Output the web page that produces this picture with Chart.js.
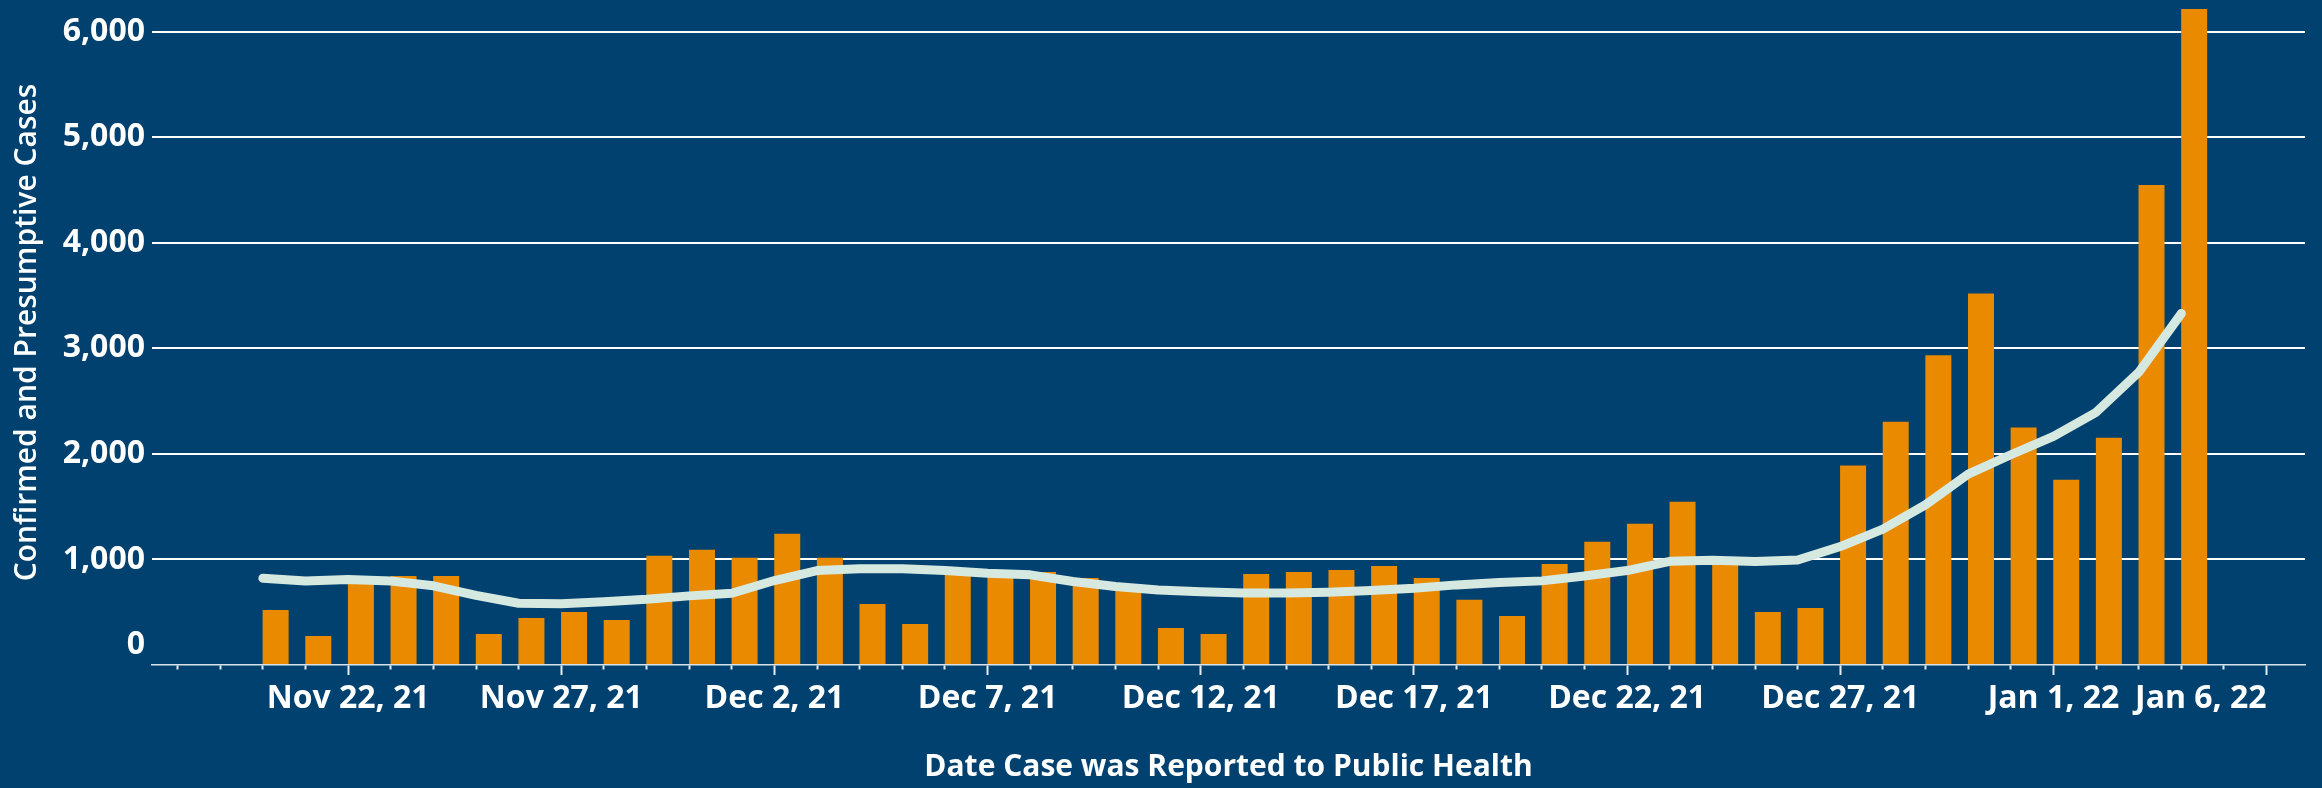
<!DOCTYPE html>
<html lang="en">
<head>
<meta charset="utf-8">
<title>Confirmed and Presumptive Cases</title>
<script src="https://cdn.jsdelivr.net/npm/chart.js@4.4.1/dist/chart.umd.min.js"></script>
<style>
  html, body { margin: 0; padding: 0; background: #01416f; }
  .chart-wrap { position: relative; width: 2322px; height: 788px; }
</style>
</head>
<body>
<div class="chart-wrap"><canvas id="casesChart"></canvas></div>
<script>
// Report dates (one bar per day)
const dates = [
  "2021-11-20", "2021-11-21", "2021-11-22", "2021-11-23", "2021-11-24", "2021-11-25",
  "2021-11-26", "2021-11-27", "2021-11-28", "2021-11-29", "2021-11-30", "2021-12-01",
  "2021-12-02", "2021-12-03", "2021-12-04", "2021-12-05", "2021-12-06", "2021-12-07",
  "2021-12-08", "2021-12-09", "2021-12-10", "2021-12-11", "2021-12-12", "2021-12-13",
  "2021-12-14", "2021-12-15", "2021-12-16", "2021-12-17", "2021-12-18", "2021-12-19",
  "2021-12-20", "2021-12-21", "2021-12-22", "2021-12-23", "2021-12-24", "2021-12-25",
  "2021-12-26", "2021-12-27", "2021-12-28", "2021-12-29", "2021-12-30", "2021-12-31",
  "2022-01-01", "2022-01-02", "2022-01-03", "2022-01-04"
];

// Daily confirmed and presumptive cases
const dailyCases = [
  522, 275, 800, 844, 844, 294,
  446, 503, 427, 1034, 1091, 1015,
  1243, 1015, 579, 389, 920, 850,
  882, 825, 750, 351, 294, 863,
  882, 901, 939, 825, 617, 465,
  958, 1167, 1338, 1547, 949, 503,
  541, 1890, 2305, 2935, 3520, 2250,
  1756, 2153, 4548, 6215
];

// 7-day average line
const sevenDayAvg = [
  822, 795, 810, 795, 750, 660,
  585, 580, 600, 623, 655, 680,
  800, 895, 912, 912, 895, 870,
  854, 791, 743, 710, 694, 682,
  682, 690, 705, 727, 759, 781,
  797, 844, 895, 982, 992, 980,
  995, 1122, 1287, 1518, 1809, 1992,
  2166, 2394, 2773, 3330
];

// Y axis ticks
const yTickValues = [0, 1000, 2000, 3000, 4000, 5000, 6000];

// Labelled date ticks
const tickDates = [
  "2021-11-22", "2021-11-27", "2021-12-02", "2021-12-07", "2021-12-12",
  "2021-12-17", "2021-12-22", "2021-12-27", "2022-01-01", "2022-01-06"
];
const tickLabels = [
  "Nov 22, 21", "Nov 27, 21", "Dec 2, 21", "Dec 7, 21", "Dec 12, 21",
  "Dec 17, 21", "Dec 22, 21", "Dec 27, 21", "Jan 1, 22", "Jan 6, 22"
];

document.addEventListener("DOMContentLoaded", function () {
  const canvas = document.getElementById("casesChart");

  const FONT = "'Open Sans', 'DejaVu Sans', sans-serif";
  const WHITE = "#ffffff";
  const X_MIN = -2.6;
  const X_MAX = 47.9;
  const BAR_SHIFT = 0.3; // bars sit just right of their date tick

  // day number counted from the first report date
  const dayOf = (iso) =>
    Math.round((Date.parse(iso) - Date.parse(dates[0])) / 86400000);
  const tickDays = tickDates.map(dayOf);

  new Chart(canvas, {
    data: {
      datasets: [
        {
          type: "line",
          label: "7-day average",
          data: sevenDayAvg.map((v, i) => ({ x: dayOf(dates[i]), y: v })),
          xAxisID: "x",
          borderColor: "#d5e9e0",
          borderWidth: 9,
          borderCapStyle: "round",
          borderJoinStyle: "round",
          pointRadius: 0,
          tension: 0,
          order: 0,
        },
        {
          type: "bar",
          label: "Cases",
          data: dailyCases.map((v, i) => ({ x: dayOf(dates[i]), y: v })),
          xAxisID: "xb",
          backgroundColor: "#ea8a00",
          grouped: false,
          barPercentage: 0.61,
          categoryPercentage: 1,
          order: 1,
        },
      ],
    },
    options: {
      responsive: true,
      maintainAspectRatio: false,
      animation: false,
      layout: {
        padding: { left: 5, right: 17, top: 0, bottom: 3 },
      },
      plugins: {
        legend: { display: false },
        tooltip: { enabled: false },
      },
      scales: {
        x: {
          type: "linear",
          min: X_MIN,
          max: X_MAX,
          offset: false,
          afterFit: function (scale) {
            scale.height = 120;
            scale.paddingLeft = 0;
            scale.paddingRight = 0;
          },
          border: {
            display: true,
            color: "rgba(255, 255, 255, 0.85)",
            width: 1.5,
            dash: [3, 3],
          },
          grid: {
            offset: false,
            drawOnChartArea: false,
            drawTicks: true,
            tickLength: 10,
            tickWidth: 2,
            tickColor: "rgba(255, 255, 255, 0.9)",
            tickBorderDash: (ctx) =>
              tickDays.includes(ctx.tick.value) ? [] : [4, 20],
          },
          ticks: {
            stepSize: 1,
            autoSkip: false,
            includeBounds: false,
            maxRotation: 0,
            align: "inner",
            padding: 5,
            color: WHITE,
            font: { family: FONT, size: 32, weight: "bold" },
            callback: function (value) {
              const k = tickDays.indexOf(value);
              return k >= 0 ? tickLabels[k] : "";
            },
          },
          title: {
            display: true,
            text: "Date Case was Reported to Public Health",
            color: WHITE,
            font: { family: FONT, size: 30, weight: "bold" },
            padding: { top: 0, bottom: 0 },
          },
        },
        // hidden twin of x, shifted so each bar starts at its date tick
        xb: {
          type: "linear",
          display: false,
          offset: false,
          grid: { offset: false },
          min: X_MIN - BAR_SHIFT,
          max: X_MAX - BAR_SHIFT,
          ticks: { stepSize: 1, includeBounds: false },
        },
        y: {
          min: 0,
          max: 6300,
          afterBuildTicks: function (scale) {
            scale.ticks = yTickValues.map((v) => ({ value: v }));
          },
          afterFit: function (scale) {
            scale.width = 147;
            scale.paddingTop = 0;
            scale.paddingBottom = 0;
          },
          border: { display: false },
          grid: {
            drawTicks: false,
            lineWidth: 2,
            color: (ctx) => (ctx.tick.value === 0 ? "transparent" : WHITE),
          },
          ticks: {
            padding: 7,
            color: WHITE,
            font: { family: FONT, size: 32, weight: "bold", lineHeight: "40px" },
            callback: (value) =>
              value === 0 ? ["0", ""] : value.toLocaleString("en-US"),
          },
          title: {
            display: true,
            text: "Confirmed and Presumptive Cases",
            color: WHITE,
            font: { family: FONT, size: 30, weight: 600 },
            padding: { top: 4, bottom: 0 },
          },
        },
      },
    },
  });
});
</script>
</body>
</html>
